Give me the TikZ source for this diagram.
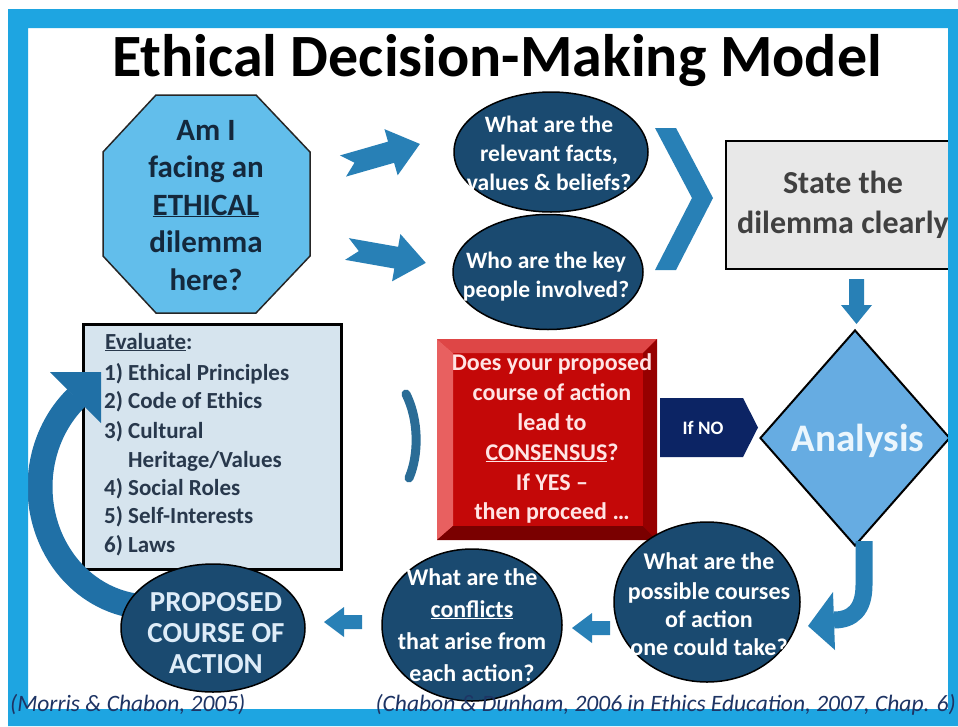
\documentclass[tikz,border=0pt]{standalone}
\usepackage{fontspec}
\setmainfont{Carlito}
\usetikzlibrary{shapes.geometric}
\definecolor{frameblue}{RGB}{30,165,225}
\definecolor{octfill}{RGB}{98,190,235}
\definecolor{octtext}{RGB}{20,40,60}
\definecolor{navyfill}{RGB}{26,74,112}
\definecolor{arrowblue}{RGB}{40,128,182}
\definecolor{boxgray}{RGB}{232,232,232}
\definecolor{graytext}{RGB}{64,64,64}
\definecolor{diafill}{RGB}{102,172,226}
\definecolor{diatext}{RGB}{235,246,253}
\definecolor{ifnofill}{RGB}{12,36,100}
\definecolor{redmain}{RGB}{196,8,8}
\definecolor{redtop}{RGB}{222,70,70}
\definecolor{redleft}{RGB}{232,96,96}
\definecolor{redright}{RGB}{150,0,0}
\definecolor{redbottom}{RGB}{122,0,0}
\definecolor{redtext}{RGB}{255,228,228}
\definecolor{evalfill}{RGB}{214,228,238}
\definecolor{evaltext}{RGB}{40,56,76}
\definecolor{brackblue}{RGB}{42,108,150}
\definecolor{arcblue}{RGB}{32,112,166}
\definecolor{circtext}{RGB}{222,236,248}
\definecolor{citetext}{RGB}{30,52,100}
\newcommand\myfs[2]{\fontsize{#1}{#2}\selectfont}
\tikzset{
  ln/.style={inner sep=0, anchor=base},
  lnw/.style={inner sep=0, anchor=base west},
  darkell/.style={ellipse, draw=black, line width=1.5, fill=navyfill, inner sep=0},
  notcharrow/.pic={\fill[arrowblue] (0,-11) -- (50,-11) -- (50,-24) -- (80,0) -- (50,24) -- (50,11) -- (0,11) -- (12,0) -- cycle;},
  smallarrow/.pic={\fill[arrowblue] (0,0) -- (20,-15) -- (20,-7) -- (38,-7) -- (38,7) -- (20,7) -- (20,15) -- cycle;}
}
\begin{document}
\begin{tikzpicture}[x=1pt,y=-1pt]
\useasboundingbox (0,0) rectangle (958,726);
\fill[white] (0,0) rectangle (958,726);

% title
\node[ln, font=\myfs{60}{72}\bfseries] (title) at (497,76) {Ethical Decision-Making Model};

% octagon
\draw[fill=octfill, draw=black!85, line width=1.5] (156,95) -- (256,95) -- (310,152) -- (310,256) -- (256,313) -- (156,313) -- (103,256) -- (103,152) -- cycle;
\coordinate (oct) at (206,204);
\foreach \txt/\yy [count=\i] in {{Am I}/140, {facing an}/177.5, {\underline{ETHICAL}}/215, {dilemma}/252.5, {here?}/290}
  \node[ln, font=\myfs{31}{37}\bfseries, text=octtext] (oct\i) at (206,\yy) {\txt};

% notched arrows
\pic[rotate=16] at (343,166) {notcharrow};
\pic[rotate=-10] at (347,249) {notcharrow};

% top ellipses
\node[darkell, minimum width=194, minimum height=120] (facts) at (551,152) {};
\foreach \txt/\yy [count=\i] in {{What are the}/132, {relevant facts,}/161, {values \& beliefs?}/190}
  \node[ln, font=\myfs{23.5}{28}\bfseries, text=white] (facts\i) at (549,\yy) {\txt};
\node[darkell, minimum width=190, minimum height=115] (people) at (548,272) {};
\foreach \txt/\yy [count=\i] in {{Who are the key}/268, {people involved?}/297}
  \node[ln, font=\myfs{23.5}{28}\bfseries, text=white] (people\i) at (546,\yy) {\txt};

% chevron
\fill[arrowblue] (655,128) -- (676,128) -- (713,198) -- (676,270) -- (655,270) -- (692,198) -- cycle;

% state box
\node[draw=black, line width=1.5, fill=boxgray, anchor=north west, minimum width=230, minimum height=128, inner sep=0] (state) at (725,140) {};
\node[ln, font=\myfs{32}{38}\bfseries, text=graytext] (state1) at (843,193) {State the};
\node[ln, font=\myfs{32}{38}\bfseries, text=graytext] (state2) at (843,233) {dilemma clearly};

% down arrow
\fill[arrowblue] (849,279) -- (864,279) -- (864,305) -- (872,305) -- (856.5,324) -- (841,305) -- (849,305) -- cycle;

% diamond
\node[diamond, draw=black, line width=2, fill=diafill, minimum width=190, minimum height=216, inner sep=0] (analysis) at (855,438) {};
\node[ln, font=\myfs{39}{47}\bfseries, text=diatext] (analysisT) at (858,451) {Analysis};

% If NO
\fill[ifnofill] (660,398) -- (743,398) -- (758,427.5) -- (743,457) -- (660,457) -- cycle;
\node[ln, font=\myfs{19}{22}\bfseries, text=white] (ifno) at (703,434) {If NO};

% red bevelled box
\node[fill=redmain, minimum width=220, minimum height=201, inner sep=0] (consensus) at (547,439.5) {};
\fill[redtop] (437,339) -- (657,339) -- (643,353) -- (453,353) -- cycle;
\fill[redleft] (437,339) -- (453,353) -- (453,526) -- (437,540) -- cycle;
\fill[redright] (657,339) -- (657,540) -- (643,526) -- (643,353) -- cycle;
\fill[redbottom] (437,540) -- (657,540) -- (643,526) -- (453,526) -- cycle;
\foreach \txt/\yy [count=\i] in {{Does your proposed}/370, {course of action}/400, {lead to}/430, {\underline{CONSENSUS}?}/460, {If YES –}/490, {then proceed …}/519}
  \node[ln, font=\myfs{24}{30}\bfseries, text=redtext] (cons\i) at (552,\yy) {\txt};

% bracket
\draw[brackblue, line width=9, line cap=round] (406,394) .. controls (419,420) and (419,455) .. (409,478);

% evaluate box
\node[draw=black, line width=3, fill=evalfill, anchor=north west, minimum width=258, minimum height=245, inner sep=0] (eval) at (82,323) {};
\node[lnw, font=\myfs{23}{29}\bfseries, text=evaltext] (eval0) at (105,349) {\underline{Evaluate}:};
\foreach \num/\txt/\yy [count=\i] in {{1)}/{Ethical Principles}/380, {2)}/{Code of Ethics}/408, {3)}/{Cultural}/438, {}/{Heritage/Values}/467, {4)}/{Social Roles}/495, {5)}/{Self-Interests}/523, {6)}/{Laws}/552}{
  \node[lnw, font=\myfs{23}{29}\bfseries, text=evaltext] (evaln\i) at (104,\yy) {\num};
  \node[lnw, font=\myfs{23}{29}\bfseries, text=evaltext] (evalt\i) at (128,\yy) {\txt};
}

% big left arc arrow
\draw[arcblue, line width=25] (150,487) ++(70:110 and 120) arc[start angle=70, end angle=228, x radius=110, y radius=120];
\fill[arcblue] (50,372) -- (101,372) -- (101,423) -- cycle;

% J arrow
\draw[arrowblue, line width=17] (864,541) -- (864,585) .. controls (864,610) and (852,620) .. (834,620);
\fill[arrowblue] (833,592) -- (808,626) -- (835,650) -- cycle;

% bottom circles
\node[darkell, minimum width=186, minimum height=160] (courses) at (707,602) {};
\foreach \txt/\yy [count=\i] in {{What are the}/569, {possible courses}/599, {of action}/627, {one could take?}/655}
  \node[ln, font=\myfs{24}{28}\bfseries, text=white] (courses\i) at (709,\yy) {\txt};
\pic at (572,628) {smallarrow};
\node[darkell, minimum width=180, minimum height=152] (conflicts) at (472,625) {};
\foreach \txt/\yy [count=\i] in {{What are the}/585, {\underline{conflicts}}/617, {that arise from}/649, {each action?}/681}
  \node[ln, font=\myfs{24}{28}\bfseries, text=white] (conflicts\i) at (472,\yy) {\txt};
\pic at (324,622) {smallarrow};
\node[darkell, minimum width=184, minimum height=128] (proposed) at (213,628) {};
\foreach \txt/\yy [count=\i] in {{PROPOSED}/611, {COURSE OF}/642, {ACTION}/673}
  \node[ln, font=\myfs{29}{31}\bfseries, text=circtext] (proposed\i) at (216,\yy) {\txt};

% frame
\fill[frameblue, even odd rule] (8,9) rectangle (958,726) (28,28) rectangle (948,709);

% citations
\node[lnw, font=\myfs{23.5}{27}\itshape, text=citetext] (cite1) at (10,711) {(Morris \& Chabon, 2005)};
\node[inner sep=0, anchor=base east, font=\myfs{23.5}{27}\itshape, text=citetext] (cite2) at (956,711) {(Chabon \& Dunham, 2006 in Ethics Education, 2007, Chap. 6)};
\end{tikzpicture}
\end{document}
